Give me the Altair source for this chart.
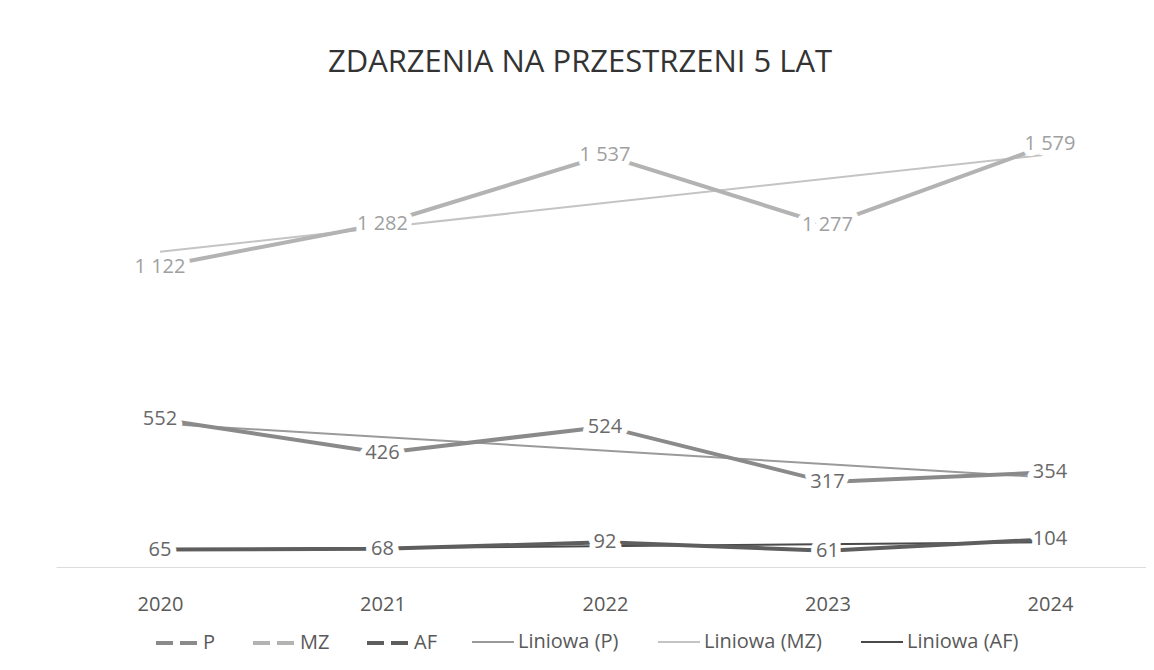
import altair as alt
import pandas as pd

years = [2020, 2021, 2022, 2023, 2024]
p_values = [552, 426, 524, 317, 354]
mz_values = [1122, 1282, 1537, 1277, 1579]
af_values = [65, 68, 92, 61, 104]

series_names = ["P", "MZ", "AF"]
trend_names = ["Liniowa (P)", "Liniowa (MZ)", "Liniowa (AF)"]
series_colors = ["#8a8a8a", "#b3b3b3", "#5e5e5e"]
trend_colors = ["#9a9a9a", "#c4c4c4", "#4a4a4a"]
label_colors = ["#6a6a6a", "#a0a0a0", "#666666"]

rows = []
for name, vals in zip(series_names, [p_values, mz_values, af_values]):
    for yr, v in zip(years, vals):
        rows.append({"year": yr, "value": v, "series": name})
df = pd.DataFrame(rows)

FONT = "Open Sans"

x_enc = alt.X(
    "year:Q",
    scale=alt.Scale(domain=[2019.5326, 2024.4315], nice=False, zero=False),
    axis=alt.Axis(values=years, format="d", title=None, grid=False, ticks=False,
                  domainColor="#dcdcdc", domainWidth=1, labelFont=FONT,
                  labelFontSize=20, labelColor="#595959", labelPadding=27),
)
y_enc = alt.Y("value:Q", scale=alt.Scale(domain=[0, 1800], nice=False), axis=None)

legend_common = dict(
    title=None, orient="none", legendY=535, direction="horizontal",
    symbolType="stroke", symbolSize=1764, labelFont=FONT, labelFontSize=20,
    labelColor="#595959", labelOffset=3, padding=0,
)

series_stroke = alt.Stroke(
    "sname:N",
    scale=alt.Scale(domain=series_names, range=series_colors),
    legend=alt.Legend(legendX=98, symbolDash=[17, 7], symbolStrokeWidth=4,
                      columnPadding=29, **legend_common),
)
trend_color = alt.Color(
    "tname:N",
    scale=alt.Scale(domain=trend_names, range=trend_colors),
    legend=alt.Legend(legendX=415, symbolStrokeWidth=2, columnPadding=35, **legend_common),
)

base = alt.Chart(df)

trend = base.transform_regression(
    "year", "value", groupby=["series"], extent=[2020, 2024]
).transform_calculate(
    tname="'Liniowa (' + datum.series + ')'"
).mark_line(strokeWidth=2).encode(x=x_enc, y=y_enc, color=trend_color)

lines = base.transform_calculate(sname="datum.series").mark_line(strokeWidth=4).encode(
    x=x_enc, y=y_enc, stroke=series_stroke
)

label_base = base.transform_calculate(
    label="replace(format(datum.value, ','), ',', ' ')"
)

halo = label_base.mark_text(
    font=FONT, fontSize=20, align="center", baseline="middle",
    stroke="white", strokeWidth=12, strokeJoin="round", fill="white"
).encode(x=x_enc, y=y_enc, text="label:N")

labels = label_base.mark_text(
    font=FONT, fontSize=20, align="center", baseline="middle"
).encode(
    x=x_enc, y=y_enc, text="label:N",
    fill=alt.Fill("series:N", scale=alt.Scale(domain=series_names, range=label_colors), legend=None),
)

chart = alt.layer(trend, lines, halo, labels).resolve_scale(
    color="independent", stroke="independent", fill="independent"
).properties(
    width=1090, height=482,
    autosize=alt.AutoSizeParams(type="none"),
    padding={"left": 48, "top": 77, "right": 0, "bottom": 95},
    title=alt.TitleParams(
        "ZDARZENIA NA PRZESTRZENI 5 LAT", font=FONT, fontSize=31, fontWeight="normal",
        color="#333333", anchor="middle", dx=-21, offset=6,
    ),
).configure(background="white", view=alt.ViewConfig(stroke=None))

chart.save("out.html", embed_options={"renderer": "svg", "actions": False})
